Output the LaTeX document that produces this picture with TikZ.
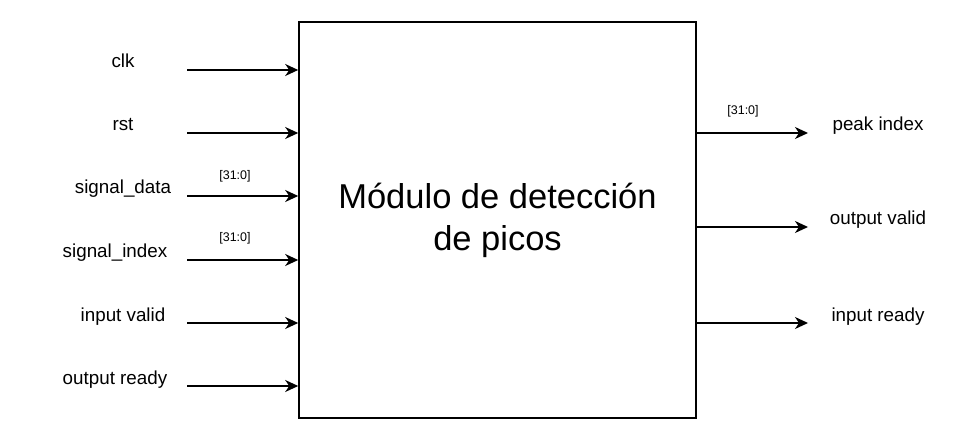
\documentclass[tikz,border=0pt]{standalone}
\usepackage{fontspec}
\setmainfont{Liberation Sans}
\usetikzlibrary{arrows.meta}

\begin{document}
\begin{tikzpicture}[x=1pt, y=-1pt, >={Stealth[length=13pt, width=12pt, inset=4pt]}, every node/.style={inner sep=0pt},
	sig/.style={anchor=base, font=\fontsize{18.8}{21}\selectfont},
	bus/.style={font=\fontsize{12.5}{14}\selectfont},
	wire/.style={->, line width=1.5pt}]
	\useasboundingbox (0,0) rectangle (973,443);
	
	\node[draw, line width=1.6pt, minimum width=397pt, minimum height=396pt, align=center, font=\fontsize{34.5}{42}\selectfont] (m) at (497.5,220) {Módulo de detección\\de picos};
	
	\node[sig] (a) at (123,67.5) {clk};
	\node[sig] (b) at (123,131) {rst};
	\node[sig] (c) at (123,194) {signal\_data};
	\node[sig] (d) at (115,257.5) {signal\_index};
	\node[sig] (e) at (123,321) {input valid};
	\node[sig] (f) at (115,384.5) {output ready};
	
	\node[sig] (g) at (878,131) {peak index};
	\node[sig] (h) at (878,225) {output valid};
	\node[sig] (i) at (878,321) {input ready};
	
	\node[bus] at (235,176) {[31:0]};
	\node[bus] at (235,238) {[31:0]};
	\node[bus] at (743,111) {[31:0]};
	
	\coordinate (ca) at (187,70);
	\coordinate (cb) at (187,133);
	\coordinate (cc) at (187,196);
	\coordinate (cd) at (187,260);
	\coordinate (ce) at (187,323);
	\coordinate (cf) at (187,386);
	\coordinate (cg) at (808,133);
	\coordinate (ch) at (808,227);
	\coordinate (ci) at (808,323);
	
	\draw[wire] (ca) -- (ca -| m.west);
	\draw[wire] (cb) -- (cb -| m.west);
	\draw[wire] (cc) -- (cc -| m.west);
	\draw[wire] (cd) -- (cd -| m.west);
	\draw[wire] (ce) -- (ce -| m.west);
	\draw[wire] (cf) -- (cf -| m.west);
	\draw[wire] (cg -| m.east) -- (cg);
	\draw[wire] (ch -| m.east) -- (ch);
	\draw[wire] (ci -| m.east) -- (ci);
\end{tikzpicture}
\end{document}
